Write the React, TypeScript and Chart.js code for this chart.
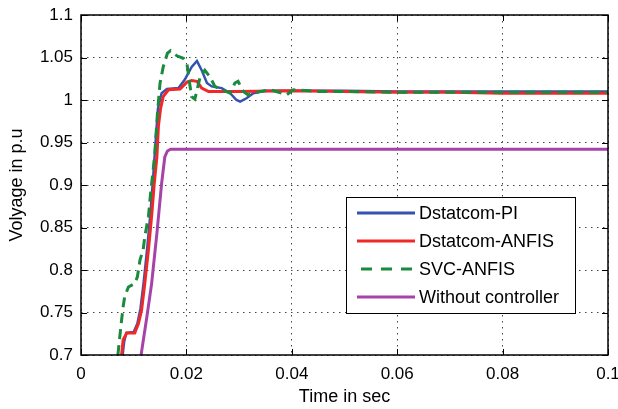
import React, { useEffect, useRef } from "react";
import { Chart, registerables } from "chart.js";

Chart.register(...registerables);

const xTicks = [0, 0.02, 0.04, 0.06, 0.08, 0.1];
const xTickLabels = ["0", "0.02", "0.04", "0.06", "0.08", "0.1"];
const yTicks = [0.7, 0.75, 0.8, 0.85, 0.9, 0.95, 1.0, 1.05, 1.1];
const yTickLabels = ["0.7", "0.75", "0.8", "0.85", "0.9", "0.95", "1", "1.05", "1.1"];

const seriesNames = ["Dstatcom-PI", "Dstatcom-ANFIS", "SVC-ANFIS", "Without controller"];
const seriesColors = ["#3552b0", "#f02828", "#1a8a3c", "#a543a8"];

const piTime = [0.0079, 0.0082, 0.0086, 0.01, 0.0107, 0.0113, 0.0119, 0.0126, 0.0132, 0.0137, 0.0142, 0.0146, 0.0153, 0.0163, 0.0185, 0.0197, 0.021, 0.022, 0.0229, 0.0239, 0.0248, 0.0267, 0.0283, 0.0295, 0.0302, 0.0314, 0.0327, 0.035, 0.04, 0.05, 0.06, 0.07, 0.08, 0.09, 0.1];
const piVolt = [0.7, 0.716, 0.726, 0.727, 0.737, 0.755, 0.786, 0.828, 0.868, 0.91, 0.955, 0.99, 1.008, 1.013, 1.014, 1.024, 1.039, 1.046, 1.035, 1.02, 1.016, 1.014, 1.008, 1.0, 0.998, 1.002, 1.008, 1.011, 1.011, 1.011, 1.01, 1.01, 1.01, 1.01, 1.01];

const anfisTime = [0.0077, 0.008, 0.0087, 0.0102, 0.0109, 0.0115, 0.0121, 0.0128, 0.0134, 0.0139, 0.0144, 0.0147, 0.0151, 0.0156, 0.0166, 0.0188, 0.0201, 0.021, 0.022, 0.0229, 0.0242, 0.03, 0.04, 0.05, 0.06, 0.07, 0.08, 0.09, 0.1];
const anfisVolt = [0.7, 0.718, 0.726, 0.726, 0.737, 0.753, 0.784, 0.824, 0.863, 0.902, 0.933, 0.97, 0.99, 1.004, 1.012, 1.013, 1.021, 1.023, 1.022, 1.014, 1.01, 1.01, 1.011, 1.01, 1.009, 1.009, 1.008, 1.008, 1.008];

const svcTime = [0.007, 0.0073, 0.0077, 0.008, 0.0083, 0.009, 0.0102, 0.0107, 0.0112, 0.0118, 0.0121, 0.0128, 0.0132, 0.0137, 0.014, 0.0145, 0.015, 0.0156, 0.0164, 0.017, 0.0182, 0.0194, 0.0201, 0.0206, 0.021, 0.0216, 0.0226, 0.0235, 0.0245, 0.0254, 0.0267, 0.0283, 0.0292, 0.0298, 0.0308, 0.0317, 0.034, 0.0359, 0.0381, 0.039, 0.0403, 0.045, 0.05, 0.06, 0.07, 0.08, 0.09, 0.1];
const svcVolt = [0.7, 0.718, 0.741, 0.757, 0.769, 0.78, 0.784, 0.792, 0.812, 0.824, 0.839, 0.863, 0.89, 0.918, 0.937, 0.984, 1.02, 1.039, 1.055, 1.058, 1.052, 1.049, 1.043, 1.02, 1.004, 1.001, 1.027, 1.035, 1.027, 1.016, 1.012, 1.008, 1.02, 1.022, 1.01, 1.006, 1.01, 1.012, 1.008, 1.006, 1.012, 1.01, 1.01, 1.009, 1.009, 1.009, 1.009, 1.009];

const noCtrlTime = [0.0114, 0.0125, 0.0134, 0.0144, 0.0153, 0.0159, 0.0164, 0.017, 0.1];
const noCtrlVolt = [0.7, 0.745, 0.784, 0.843, 0.902, 0.933, 0.94, 0.942, 0.942];

const FONT = "'Liberation Sans', Arial, sans-serif";

const toPoints = (t: number[], v: number[]) => t.map((x, i) => ({ x, y: v[i] }));

const boxPlugin = {
  id: "matlabBox",
  afterDraw(chart: any) {
    const { ctx, chartArea } = chart;
    const { left, right, top, bottom } = chartArea;
    const xs = chart.scales.x;
    const ys = chart.scales.y;
    ctx.save();
    ctx.strokeStyle = "#000";
    ctx.lineWidth = 1.5;
    ctx.setLineDash([]);
    ctx.strokeRect(left, top, right - left, bottom - top);
    ctx.lineWidth = 1;
    const tl = 6;
    ctx.beginPath();
    xTicks.forEach((v) => {
      const px = Math.round(xs.getPixelForValue(v)) + 0.5;
      ctx.moveTo(px, bottom);
      ctx.lineTo(px, bottom - tl);
      ctx.moveTo(px, top);
      ctx.lineTo(px, top + tl);
    });
    yTicks.forEach((v) => {
      const py = Math.round(ys.getPixelForValue(v)) + 0.5;
      ctx.moveTo(left, py);
      ctx.lineTo(left + tl, py);
      ctx.moveTo(right, py);
      ctx.lineTo(right - tl, py);
    });
    ctx.stroke();

    // legend box
    const lx = 346.5, ly = 197.5, lw = 229, lh = 116;
    ctx.fillStyle = "#fff";
    ctx.fillRect(lx, ly, lw, lh);
    ctx.strokeStyle = "#000";
    ctx.lineWidth = 1;
    ctx.strokeRect(lx, ly, lw, lh);
    ctx.font = "18px " + FONT;
    ctx.textBaseline = "middle";
    ctx.textAlign = "left";
    chart.data.datasets.forEach((ds: any, i: number) => {
      const y = 213 + i * 28;
      ctx.save();
      ctx.strokeStyle = ds.borderColor;
      ctx.lineWidth = 3;
      ctx.setLineDash(ds.borderDash && ds.borderDash.length ? [11, 9] : []);
      ctx.beginPath();
      ctx.moveTo(ds.borderDash && ds.borderDash.length ? 361 : 357, y);
      ctx.lineTo(415, y);
      ctx.stroke();
      ctx.restore();
      ctx.fillStyle = "#000";
      ctx.fillText(ds.label, 419, y + 1);
    });
    ctx.restore();
  },
};

export default function App() {
  const ref = useRef<HTMLCanvasElement | null>(null);
  useEffect(() => {
    if (!ref.current) return;
    Chart.defaults.font.family = FONT;
    const chart = new Chart(ref.current, {
      type: "line",
      data: {
        datasets: [
          { label: seriesNames[0], data: toPoints(piTime, piVolt), borderColor: seriesColors[0], borderWidth: 2.5, pointRadius: 0, order: 3 },
          { label: seriesNames[1], data: toPoints(anfisTime, anfisVolt), borderColor: seriesColors[1], borderWidth: 3, pointRadius: 0, order: 2 },
          { label: seriesNames[2], data: toPoints(svcTime, svcVolt), borderColor: seriesColors[2], borderWidth: 3, borderDash: [10, 6], pointRadius: 0, order: 1 },
          { label: seriesNames[3], data: toPoints(noCtrlTime, noCtrlVolt), borderColor: seriesColors[3], borderWidth: 3, pointRadius: 0, order: 0 },
        ],
      },
      options: {
        responsive: false,
        animation: false,
        layout: { padding: { left: 0, right: 10, top: 15, bottom: 0 } },
        plugins: { legend: { display: false }, tooltip: { enabled: false } },
        scales: {
          x: {
            type: "linear",
            min: 0,
            max: 0.1,
            afterBuildTicks: (s: any) => { s.ticks = xTicks.map((v) => ({ value: v })); },
            afterFit: (s: any) => { s.height = 54; s.paddingLeft = 0; s.paddingRight = 0; },
            ticks: {
              color: "#000",
              font: { size: 17 },
              padding: 9,
              maxRotation: 0,
              callback: (_v: any, i: number) => xTickLabels[i],
            },
            grid: { color: "#444", lineWidth: 1, drawTicks: false },
            border: { display: false, dash: [1.5, 4.5] },
            title: { display: true, text: "Time in sec", color: "#000", font: { size: 18 }, padding: { top: 0, bottom: 1 } },
          },
          y: {
            type: "linear",
            min: 0.7,
            max: 1.1,
            afterBuildTicks: (s: any) => { s.ticks = yTicks.map((v) => ({ value: v })); },
            afterFit: (s: any) => { s.width = 81; s.paddingTop = 0; s.paddingBottom = 0; },
            ticks: {
              color: "#000",
              font: { size: 17 },
              padding: 8,
              callback: (_v: any, i: number) => yTickLabels[i],
            },
            grid: { color: "#444", lineWidth: 1, drawTicks: false },
            border: { display: false, dash: [1.5, 4.5] },
            title: { display: true, text: "Volyage in p.u", color: "#000", font: { size: 18 }, padding: { top: 6, bottom: 0 } },
          },
        },
      },
      plugins: [boxPlugin],
    } as any);
    return () => chart.destroy();
  }, []);
  return (
    <div style={{ position: "fixed", left: 0, top: 0, width: 618, height: 409, background: "#fff" }}>
      <canvas ref={ref} width={618} height={409} style={{ display: "block" }} />
    </div>
  );
}
